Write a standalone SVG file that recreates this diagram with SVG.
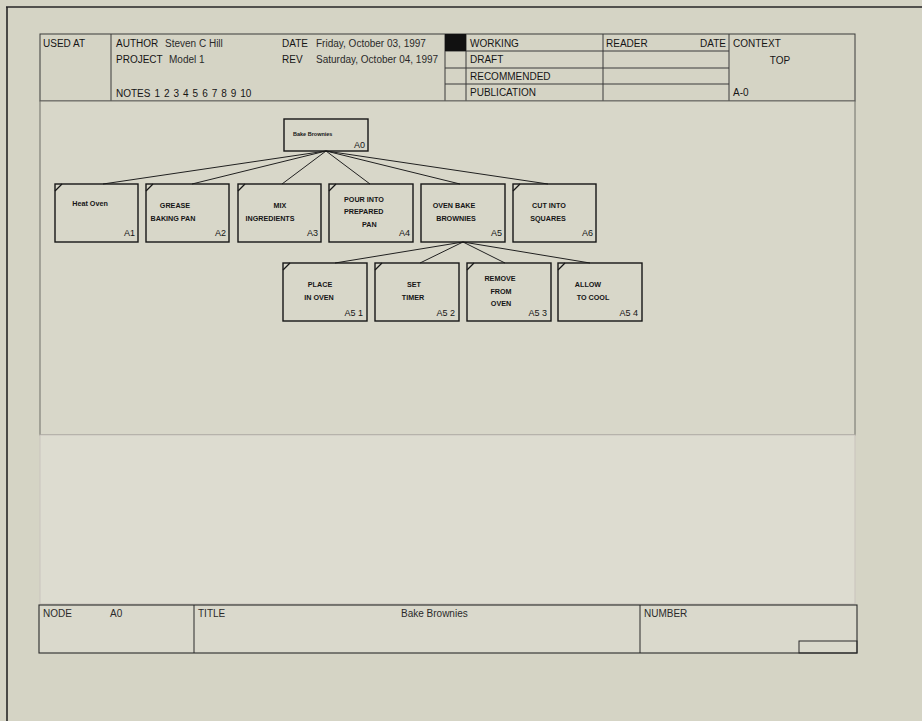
<svg xmlns="http://www.w3.org/2000/svg" width="922" height="721" viewBox="0 0 922 721">
<style>
text{font-family:"Liberation Sans",Arial,sans-serif;fill:#151515}
.h{font-size:10px}
.hv{font-size:10px;fill:#2a2a2a}
.frame{fill:none;stroke:#3a3a3a;stroke-width:1}
.box{fill:none;stroke:#161616;stroke-width:1.4}
.mark{stroke:#161616;stroke-width:1.3}
.nt{font-size:7.2px;font-weight:bold;text-anchor:middle}
.lbl{font-size:9px;text-anchor:end}
.con line{stroke:#202020;stroke-width:1}
</style>
<rect x="0" y="0" width="922" height="721" fill="#d5d4c5"/>
<!-- outer border -->
<line x1="6" y1="7" x2="922" y2="7" stroke="#262626" stroke-width="1.6"/>
<line x1="7" y1="7" x2="7" y2="721" stroke="#262626" stroke-width="1.6"/>

<!-- header -->
<g id="header">
<rect x="40" y="34" width="815" height="67" fill="#dcdbcd" class="frame"/>
<line x1="111" y1="34" x2="111" y2="101" class="frame"/>
<line x1="445" y1="34" x2="445" y2="101" class="frame"/>
<line x1="466" y1="34" x2="466" y2="101" class="frame"/>
<line x1="603" y1="34" x2="603" y2="101" class="frame"/>
<line x1="729" y1="34" x2="729" y2="101" class="frame"/>
<line x1="445" y1="51" x2="729" y2="51" class="frame"/>
<line x1="445" y1="68" x2="729" y2="68" class="frame"/>
<line x1="445" y1="84" x2="729" y2="84" class="frame"/>
<rect x="445" y="34" width="21" height="17" fill="#111"/>
<text x="43" y="47" class="h">USED AT</text>
<text x="116" y="47" class="h">AUTHOR</text>
<text x="165" y="47" class="hv">Steven C Hill</text>
<text x="116" y="63" class="h">PROJECT</text>
<text x="169" y="63" class="hv">Model 1</text>
<text x="116" y="97" class="h" word-spacing="1.2">NOTES  1 2 3 4 5 6 7 8 9 10</text>
<text x="282" y="47" class="h">DATE</text>
<text x="316" y="47" class="hv">Friday, October 03, 1997</text>
<text x="282" y="63" class="h">REV</text>
<text x="316" y="63" class="hv">Saturday, October 04, 1997</text>
<text x="470" y="47" class="h">WORKING</text>
<text x="470" y="63" class="h">DRAFT</text>
<text x="470" y="80" class="h">RECOMMENDED</text>
<text x="470" y="96" class="h">PUBLICATION</text>
<text x="606" y="47" class="h">READER</text>
<text x="726" y="47" class="h" text-anchor="end">DATE</text>
<text x="733" y="47" class="h">CONTEXT</text>
<text x="780" y="64" class="h" text-anchor="middle">TOP</text>
<text x="733" y="96" class="h">A-0</text>
</g>

<!-- drawing areas -->
<rect x="40" y="101" width="815" height="334" fill="#d8d7c9" stroke="#6e6e68" stroke-width="1"/>
<rect x="40" y="435" width="815" height="169" fill="#dddcd0" stroke="#c9c3bd" stroke-width="1"/>

<!-- connectors -->
<g id="connectors" class="con">
<line x1="326" y1="151" x2="103" y2="184"/>
<line x1="326" y1="151" x2="192" y2="184"/>
<line x1="326" y1="151" x2="282" y2="184"/>
<line x1="326" y1="151" x2="370" y2="184"/>
<line x1="326" y1="151" x2="460" y2="184"/>
<line x1="326" y1="151" x2="548" y2="184"/>
<line x1="463" y1="242" x2="335" y2="263"/>
<line x1="463" y1="242" x2="420" y2="263"/>
<line x1="463" y1="242" x2="505" y2="263"/>
<line x1="463" y1="242" x2="590" y2="263"/>
</g>

<!-- nodes -->
<g id="A0">
<rect x="284" y="119" width="84" height="32" class="box"/>
<text x="293" y="136" style="font-size:5.5px;font-weight:bold">Bake Brownies</text>
<text x="365" y="148" class="lbl">A0</text>
</g>
<g id="A1">
<rect x="55" y="184" width="83" height="58" class="box"/>
<line x1="55" y1="191" x2="62" y2="184" class="mark"/>
<text x="90" y="206" class="nt">Heat Oven</text>
<text x="135" y="236" class="lbl">A1</text>
</g>
<g id="A2">
<rect x="146" y="184" width="83" height="58" class="box"/>
<line x1="146" y1="191" x2="153" y2="184" class="mark"/>
<text x="175" y="208" class="nt">GREASE</text>
<text x="173" y="221" class="nt">BAKING PAN</text>
<text x="226" y="236" class="lbl">A2</text>
</g>
<g id="A3">
<rect x="238" y="184" width="83" height="58" class="box"/>
<line x1="238" y1="191" x2="245" y2="184" class="mark"/>
<text x="280" y="208" class="nt">MIX</text>
<text x="270" y="221" class="nt">INGREDIENTS</text>
<text x="318" y="236" class="lbl">A3</text>
</g>
<g id="A4">
<rect x="329" y="184" width="84" height="58" class="box"/>
<line x1="329" y1="191" x2="336" y2="184" class="mark"/>
<text x="344" y="202" style="font-size:7.2px;font-weight:bold">POUR INTO</text>
<text x="344" y="214" style="font-size:7.2px;font-weight:bold">PREPARED</text>
<text x="362" y="227" style="font-size:7.2px;font-weight:bold">PAN</text>
<text x="410" y="236" class="lbl">A4</text>
</g>
<g id="A5">
<rect x="421" y="184" width="84" height="58" class="box"/>
<text x="454" y="208" class="nt">OVEN BAKE</text>
<text x="456" y="221" class="nt">BROWNIES</text>
<text x="502" y="236" class="lbl">A5</text>
</g>
<g id="A6">
<rect x="513" y="184" width="83" height="58" class="box"/>
<line x1="513" y1="191" x2="520" y2="184" class="mark"/>
<text x="549" y="208" class="nt">CUT INTO</text>
<text x="548" y="221" class="nt">SQUARES</text>
<text x="593" y="236" class="lbl">A6</text>
</g>
<g id="A51">
<rect x="283" y="263" width="84" height="58" class="box"/>
<line x1="283" y1="270" x2="290" y2="263" class="mark"/>
<text x="320" y="287" class="nt">PLACE</text>
<text x="319" y="300" class="nt">IN OVEN</text>
<text x="363" y="316" class="lbl">A5 1</text>
</g>
<g id="A52">
<rect x="375" y="263" width="84" height="58" class="box"/>
<line x1="375" y1="270" x2="382" y2="263" class="mark"/>
<text x="414" y="287" class="nt">SET</text>
<text x="413" y="300" class="nt">TIMER</text>
<text x="455" y="316" class="lbl">A5 2</text>
</g>
<g id="A53">
<rect x="467" y="263" width="84" height="58" class="box"/>
<line x1="467" y1="270" x2="474" y2="263" class="mark"/>
<text x="500" y="281" class="nt">REMOVE</text>
<text x="501" y="294" class="nt">FROM</text>
<text x="501" y="306" class="nt">OVEN</text>
<text x="547" y="316" class="lbl">A5 3</text>
</g>
<g id="A54">
<rect x="558" y="263" width="84" height="58" class="box"/>
<line x1="558" y1="270" x2="565" y2="263" class="mark"/>
<text x="588" y="287" class="nt">ALLOW</text>
<text x="593" y="300" class="nt">TO COOL</text>
<text x="638" y="316" class="lbl">A5 4</text>
</g>

<!-- footer -->
<g id="footer">
<rect x="39" y="605" width="818" height="48" fill="#dad9cc" stroke="#2a2a2a" stroke-width="1.1"/>
<line x1="194" y1="605" x2="194" y2="653" stroke="#2a2a2a" stroke-width="1"/>
<line x1="640" y1="605" x2="640" y2="653" stroke="#2a2a2a" stroke-width="1"/>
<rect x="799" y="641" width="58" height="12" fill="none" stroke="#2a2a2a" stroke-width="1"/>
<text x="43" y="617" class="hv">NODE</text>
<text x="110" y="617" class="hv">A0</text>
<text x="198" y="617" class="hv">TITLE</text>
<text x="401" y="617" class="hv">Bake Brownies</text>
<text x="644" y="617" class="hv">NUMBER</text>
</g>
</svg>
